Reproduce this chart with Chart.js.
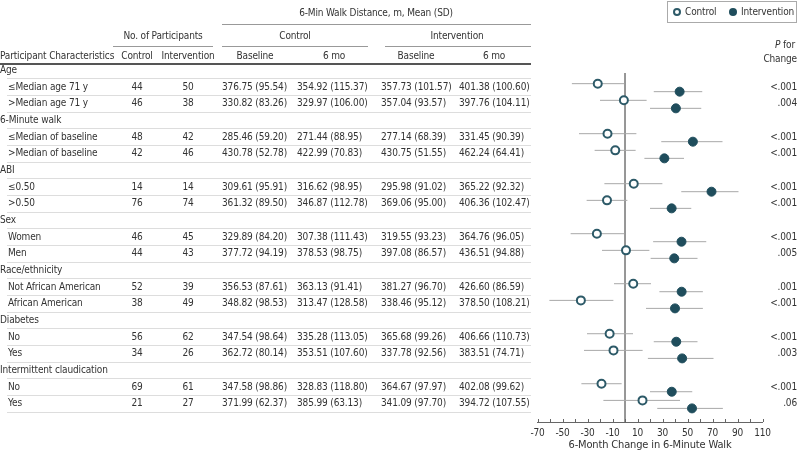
<!DOCTYPE html>
<html lang="en">
<head>
<meta charset="UTF-8">
<title>6-Minute Walk forest plot</title>
<script src="https://cdn.jsdelivr.net/npm/chart.js"></script>
<style>
  body { margin: 0; background: #fff; }
  #wrap { position: relative; width: 800px; height: 457px; overflow: hidden;
          font-family: "Liberation Sans Narrow", "DejaVu Sans Condensed", sans-serif;
          font-size: 10px; color: #333; letter-spacing: -0.15px; }
  #chart { position: absolute; left: 0; top: 0; }
  .t { position: absolute; line-height: 14px; white-space: nowrap; }
  .c { transform: translateX(-50%); }
  .r { transform: translateX(-100%); }
  .hl { position: absolute; height: 0; border-top: 1px solid #ddd; }
  #legend { position: absolute; left: 667px; top: 1px; width: 128px; height: 20px;
            border: 1px solid #aaa; }
  .sym { display: inline-block; width: 8px; height: 8px; border-radius: 50%;
         box-sizing: border-box; vertical-align: -1px; margin-right: 4px; }
</style>
</head>
<body>
<div id="wrap">
  <canvas id="chart" width="800" height="457"></canvas>
  <div id="legend">
    <span class="t" style="left:5px;top:3px"><span class="sym" style="border:2px solid #2d5a68;background:#fff"></span>Control</span>
    <span class="t" style="left:61px;top:3px"><span class="sym" style="background:#1f4d5c"></span>Intervention</span>
  </div>
</div>
<script>
  // table labels
  const groups = ['Age', '6-Minute walk', 'ABI', 'Sex', 'Race/ethnicity', 'Diabetes', 'Intermittent claudication'];
  const subgroups = ['≤Median age 71 y', '>Median age 71 y', '≤Median of baseline', '>Median of baseline',
    '≤0.50', '>0.50', 'Women', 'Men', 'Not African American', 'African American', 'No', 'Yes', 'No', 'Yes'];
  const nControl = [44, 46, 48, 42, 14, 76, 46, 44, 52, 38, 56, 34, 69, 21];
  const nIntervention = [50, 38, 42, 46, 14, 74, 45, 43, 39, 49, 62, 26, 61, 27];
  const controlBaseline = ['376.75 (95.54)', '330.82 (83.26)', '285.46 (59.20)', '430.78 (52.78)', '309.61 (95.91)',
    '361.32 (89.50)', '329.89 (84.20)', '377.72 (94.19)', '356.53 (87.61)', '348.82 (98.53)', '347.54 (98.64)',
    '362.72 (80.14)', '347.58 (98.86)', '371.99 (62.37)'];
  const control6mo = ['354.92 (115.37)', '329.97 (106.00)', '271.44 (88.95)', '422.99 (70.83)', '316.62 (98.95)',
    '346.87 (112.78)', '307.38 (111.43)', '378.53 (98.75)', '363.13 (91.41)', '313.47 (128.58)', '335.28 (113.05)',
    '353.51 (107.60)', '328.83 (118.80)', '385.99 (63.13)'];
  const interventionBaseline = ['357.73 (101.57)', '357.04 (93.57)', '277.14 (68.39)', '430.75 (51.55)', '295.98 (91.02)',
    '369.06 (95.00)', '319.55 (93.23)', '397.08 (86.57)', '381.27 (96.70)', '338.46 (95.12)', '365.68 (99.26)',
    '337.78 (92.56)', '364.67 (97.97)', '341.09 (97.70)'];
  const intervention6mo = ['401.38 (100.60)', '397.76 (104.11)', '331.45 (90.39)', '462.24 (64.41)', '365.22 (92.32)',
    '406.36 (102.47)', '364.76 (96.05)', '436.51 (94.88)', '426.60 (86.59)', '378.50 (108.21)', '406.66 (110.73)',
    '383.51 (74.71)', '402.08 (99.62)', '394.72 (107.55)'];
  const pValues = ['<.001', '.004', '<.001', '<.001', '<.001', '<.001', '<.001', '.005', '.001', '<.001', '<.001',
    '.003', '<.001', '.06'];

  // 6-month change
  const controlMean = [-21.8, -0.9, -14.0, -7.8, 7.0, -14.4, -22.5, 0.8, 6.6, -35.3, -12.3, -9.2, -18.8, 14.0];
  const controlLow = [-42.5, -20.0, -36.8, -24.3, -16.5, -30.7, -43.5, -18.4, -8.8, -60.5, -30.4, -32.8, -34.9, -17.3];
  const controlHigh = [-0.5, 17.3, 9.1, 8.5, 29.9, 1.9, -0.5, 19.5, 20.8, -9.3, 6.4, 14.1, -2.7, 44.0];
  const interventionMean = [43.7, 40.7, 54.3, 31.5, 69.2, 37.3, 45.2, 39.4, 45.3, 40.0, 41.0, 45.7, 37.4, 53.6];
  const interventionLow = [23.0, 20.0, 29.0, 15.5, 45.0, 20.0, 22.5, 20.5, 27.5, 16.8, 23.0, 18.3, 20.0, 25.8];
  const interventionHigh = [61.8, 61.0, 78.0, 47.2, 90.8, 53.0, 65.0, 58.0, 62.3, 62.3, 58.0, 70.8, 53.8, 78.3];

  const xTicksMin = -70, xTicksMax = 110;

  // row layout (shared by html table and chart y scale)
  const ROW0 = 70, PITCH = 16.67;
  const PLOT_TOP = 73, AXIS_Y = 422;
  const rowOf = k => Math.floor(k / 2) * 3 + 1 + (k % 2);
  const yMin = (PLOT_TOP - ROW0) / PITCH;
  const yMax = yMin + (AXIS_Y - PLOT_TOP) / PITCH;

  const wrap = document.getElementById('wrap');
  function text(str, x, y, cls) {
    const d = document.createElement('div');
    d.className = 't ' + (cls || '');
    d.style.left = x + 'px';
    d.style.top = (y - 7) + 'px';
    d.innerHTML = str;
    wrap.appendChild(d);
  }
  function hline(x1, x2, y, style) {
    const d = document.createElement('div');
    d.className = 'hl';
    d.style.left = x1 + 'px';
    d.style.width = (x2 - x1) + 'px';
    d.style.top = y + 'px';
    if (style) d.style.borderTop = style;
    wrap.appendChild(d);
  }

  // headers
  text('6-Min Walk Distance, m, Mean (SD)', 376, 13, 'c');
  hline(222, 531, 24, '1px solid #999');
  text('No. of Participants', 163, 36, 'c');
  text('Control', 295, 36, 'c');
  text('Intervention', 457, 36, 'c');
  hline(113, 213, 46, '1px solid #999');
  hline(222, 368, 46, '1px solid #999');
  hline(385, 531, 46, '1px solid #999');
  text('Participant Characteristics', 0, 56);
  text('Control', 137, 56, 'c');
  text('Intervention', 188, 56, 'c');
  text('Baseline', 255, 56, 'c');
  text('6 mo', 334, 56, 'c');
  text('Baseline', 416, 56, 'c');
  text('6 mo', 494, 56, 'c');
  hline(0, 531, 63, '2px solid #555');
  text('<i>P</i> for', 795, 45, 'r');
  text('Change', 797, 59, 'r');

  groups.forEach((g, i) => {
    const y = ROW0 + PITCH * i * 3;
    text(g, 0, y);
    hline(7, 531, Math.round(y + 8.3));
  });
  subgroups.forEach((s, k) => {
    const y = ROW0 + PITCH * rowOf(k);
    text(s, 8, y);
    text(nControl[k], 137, y, 'c');
    text(nIntervention[k], 188, y, 'c');
    text(controlBaseline[k], 222, y);
    text(control6mo[k], 297, y);
    text(interventionBaseline[k], 381, y);
    text(intervention6mo[k], 459, y);
    text(pValues[k], 797, y, 'r');
    hline(7, 531, Math.round(y + 8.3));
  });

  // chart
  const CTRL = '#2d5a68', INT = '#1f4d5c', CI = '#a8a8a8';
  const C_OFF = -0.18, I_OFF = 0.3;
  const ctrlPts = controlMean.map((v, k) => ({ x: v, y: rowOf(k) + C_OFF }));
  const intPts = interventionMean.map((v, k) => ({ x: v, y: rowOf(k) + I_OFF }));

  const ciSets = [];
  subgroups.forEach((s, k) => {
    ciSets.push({ type: 'line', data: [{ x: controlLow[k], y: rowOf(k) + C_OFF }, { x: controlHigh[k], y: rowOf(k) + C_OFF }],
      borderColor: CI, borderWidth: 1, pointRadius: 0, order: 2 });
    ciSets.push({ type: 'line', data: [{ x: interventionLow[k], y: rowOf(k) + I_OFF }, { x: interventionHigh[k], y: rowOf(k) + I_OFF }],
      borderColor: CI, borderWidth: 1, pointRadius: 0, order: 2 });
  });

  const upTicks = {
    id: 'upTicks',
    afterDraw(chart) {
      const sx = chart.scales.x, c = chart.ctx, yb = chart.chartArea.bottom;
      c.save();
      c.strokeStyle = '#666';
      c.lineWidth = 1;
      sx.ticks.forEach(t => {
        const px = Math.round(sx.getPixelForValue(t.value)) + 0.5;
        c.beginPath();
        c.moveTo(px, yb);
        c.lineTo(px, yb - 3);
        c.stroke();
      });
      c.restore();
    }
  };

  Chart.defaults.font.family = '"Liberation Sans Narrow", "DejaVu Sans Condensed", sans-serif';
  Chart.defaults.color = '#333';

  new Chart(document.getElementById('chart'), {
    type: 'scatter',
    data: {
      datasets: [
        { label: 'Control', data: ctrlPts, backgroundColor: '#fff', borderColor: CTRL, borderWidth: 2,
          pointRadius: 4, order: 0 },
        { label: 'Intervention', data: intPts, backgroundColor: INT, borderColor: INT, borderWidth: 1,
          pointRadius: 4.5, order: 0 },
        { type: 'line', data: [{ x: 0, y: yMin }, { x: 0, y: yMax }], borderColor: '#888', borderWidth: 1,
          pointRadius: 0, order: 3 },
        ...ciSets
      ]
    },
    options: {
      responsive: false,
      animation: false,
      layout: { padding: { left: 537.5, right: 37.5, top: PLOT_TOP, bottom: 0 } },
      plugins: { legend: { display: false }, tooltip: { enabled: false } },
      scales: {
        x: {
          type: 'linear', min: xTicksMin, max: xTicksMax,
          grid: { display: false, drawTicks: false },
          border: { color: '#666', width: 1 },
          ticks: {
            stepSize: 10, padding: 5, font: { size: 10 }, maxRotation: 0, autoSkip: false,
            callback: v => ((v - xTicksMin) % 20 === 0 ? v : '')
          },
          title: { display: true, text: '6-Month Change in 6-Minute Walk', font: { size: 11 }, padding: { top: 0, bottom: 5 } },
          afterFit: s => { s.height = 457 - AXIS_Y; }
        },
        y: { type: 'linear', min: yMin, max: yMax, reverse: true, display: false }
      }
    },
    plugins: [upTicks]
  });
</script>
</body>
</html>
